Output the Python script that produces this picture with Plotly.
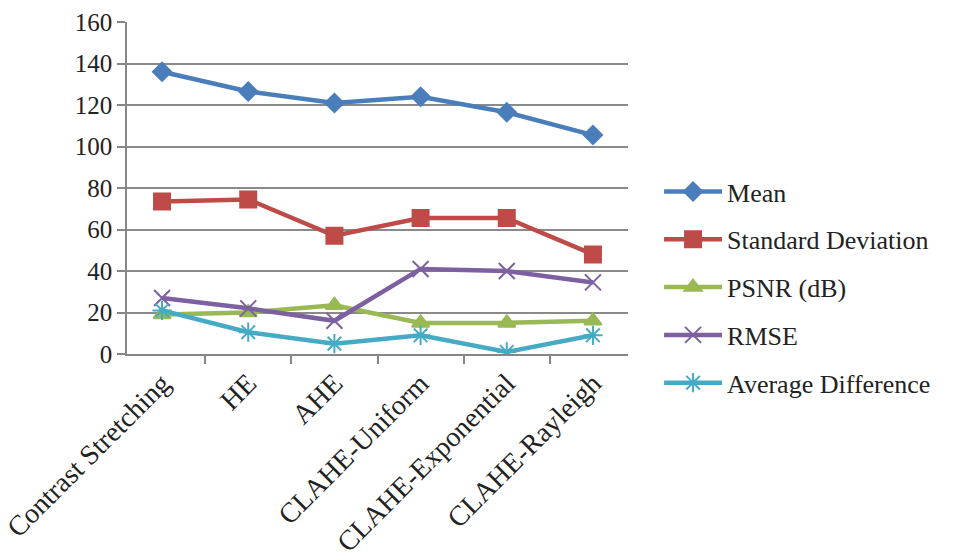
import plotly.graph_objects as go

# Enhancement methods compared
methods = ["Contrast Stretching", "HE", "AHE", "CLAHE-Uniform",
           "CLAHE-Exponential", "CLAHE-Rayleigh"]

# Quality metrics per method
mean_vals = [136, 126.5, 121, 124, 116.5, 105.5]
std_vals = [73.5, 74.5, 57, 65.5, 65.5, 48]
psnr_vals = [19, 20, 23.5, 15, 15, 16]
rmse_vals = [27, 22, 16, 41, 40, 34.5]
avgdiff_vals = [21, 10.5, 5, 9, 1, 9]

y_ticks = [0, 20, 40, 60, 80, 100, 120, 140, 160]

series = [
    ("Mean", mean_vals, "#4A7EBB", "diamond", 14),
    ("Standard Deviation", std_vals, "#BE4B48", "square", 16),
    ("PSNR (dB)", psnr_vals, "#98B954", "triangle-up", 15),
    ("RMSE", rmse_vals, "#7D60A0", "x-thin-open", 16),
    ("Average Difference", avgdiff_vals, "#46AAC5", "asterisk-open", 16),
]

font_family = "Liberation Serif"

fig = go.Figure()
for name, vals, color, symbol, size in series:
    fig.add_trace(go.Scatter(
        x=methods, y=vals, mode="lines+markers", name=name,
        legendgroup=name,
        line=dict(color=color, width=4.5),
        marker=dict(symbol=symbol, size=size, color=color,
                    line=dict(color=color, width=2)),
    ))

fig.update_layout(
    template="none",
    width=961, height=560,
    margin=dict(l=127, r=333, t=22, b=206),
    paper_bgcolor="white", plot_bgcolor="white",
    font=dict(family=font_family, size=26, color="#222222"),
    showlegend=True,
    legend=dict(
        x=1.062, y=0.2, xanchor="left", yanchor="middle",
        font=dict(family=font_family, size=26, color="#222222"),
        itemwidth=58, tracegroupgap=11,
        bgcolor="rgba(0,0,0,0)", borderwidth=0,
    ),
    xaxis=dict(
        type="category", tickangle=-45, tickson="boundaries",
        ticks="outside", ticklen=8, tickcolor="#868686", tickwidth=1.5,
        showline=True, linecolor="#868686", linewidth=1.5,
        showgrid=False, zeroline=False,
        tickfont=dict(family=font_family, size=28, color="#222222"),
    ),
    yaxis=dict(
        range=[0, 160], tickvals=y_ticks,
        ticks="outside", ticklen=8, tickcolor="#868686", tickwidth=1.5,
        showline=True, linecolor="#868686", linewidth=1.5,
        showgrid=True, gridcolor="#8a8a8a", gridwidth=1.5,
        zeroline=False,
        tickfont=dict(family=font_family, size=25, color="#222222"),
    ),
)

fig.write_html("out.html")
